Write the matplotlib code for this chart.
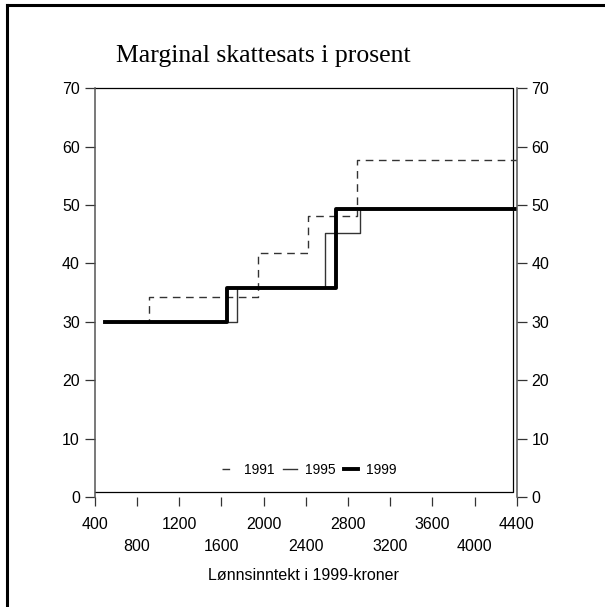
import matplotlib
matplotlib.use("Agg")
import matplotlib.pyplot as plt
from matplotlib.lines import Line2D

# Income breakpoints (1999-kroner) and marginal tax rates (%) per year
income_1991 = [500, 915, 1945, 2425, 2885, 4400]
rate_1991 = [30.0, 34.3, 41.8, 48.2, 57.8, 57.8]

income_1995 = [500, 1745, 2585, 2910, 4400]
rate_1995 = [30.0, 35.8, 45.3, 49.5, 49.5]

income_1999 = [500, 1655, 2685, 4400]
rate_1999 = [30.0, 35.8, 49.3, 49.3]

years = ["1991", "1995", "1999"]
xticks_upper = [400, 1200, 2000, 2800, 3600, 4400]
xticks_lower = [800, 1600, 2400, 3200, 4000]
yticks = [0, 10, 20, 30, 40, 50, 60, 70]

plt.rcParams["font.family"] = ["Liberation Sans", "DejaVu Sans"]

W, H = 605, 607
fig = plt.figure(figsize=(W / 100, H / 100), dpi=100)
ax = fig.add_axes([94.7 / W, (H - 497) / H, 422 / W, (497 - 88.3) / H])

ax.set_xlim(400, 4400)
ax.set_ylim(0, 70)

ax.step(income_1991, rate_1991, where="post", color="#333333", lw=1.0,
        linestyle=(0, (5.5, 4.0)), label=years[0])
ax.step(income_1995, rate_1995, where="post", color="#333333", lw=1.0,
        label=years[1])
ax.step(income_1999, rate_1999, where="post", color="black", lw=2.8,
        label=years[2])

# plot-region box (slightly inset from the axis lines)
box_right, box_bottom = 4365, 0.85
ax.plot([400, box_right, box_right, 400], [box_bottom, box_bottom, 70, 70],
        color="black", lw=0.9, clip_on=False, zorder=1)

for s in ["top", "bottom"]:
    ax.spines[s].set_visible(False)
for s in ["left", "right"]:
    ax.spines[s].set_color("#555555")
    ax.spines[s].set_linewidth(1.1)

ax.set_yticks(yticks)
ax.tick_params(axis="y", which="both", direction="out", length=7.2, width=0.9,
               color="#333333", labelsize=11.5, pad=3.5,
               left=True, right=True, labelleft=True, labelright=True)

ax.set_xticks(xticks_upper)
ax.set_xticks(xticks_lower, minor=True)
ax.set_xticklabels([str(v) for v in xticks_upper])
ax.set_xticklabels([str(v) for v in xticks_lower], minor=True)
ax.tick_params(axis="x", which="major", direction="out", length=6.5, width=0.9,
               color="#333333", labelsize=11.5, pad=8)
ax.tick_params(axis="x", which="minor", direction="out", length=6.5, width=0.9,
               color="#333333", labelsize=11.5, pad=24)

fig.text(303 / W, 1 - 576 / H, "Lønnsinntekt i 1999-kroner",
         ha="center", va="center", fontsize=11.5)

fig.text(263 / W, 1 - 62 / H, "Marginal skattesats i prosent",
         ha="center", va="baseline", fontsize=18.5,
         family=["Liberation Serif", "DejaVu Serif"])

leg = ax.legend(loc="center", bbox_to_anchor=(0.508, 0.066), ncol=3,
                frameon=False, fontsize=10, handlelength=1.0,
                handletextpad=0.6, columnspacing=0.6, borderpad=0)

# outer frame: top and left edges
fig.add_artist(Line2D([7 / W, 7 / W], [0, 1 - 5 / H], color="black", lw=2.2))
fig.add_artist(Line2D([7 / W, 1], [1 - 5 / H, 1 - 5 / H], color="black", lw=2.2))

fig.savefig("out.png", dpi=100)
